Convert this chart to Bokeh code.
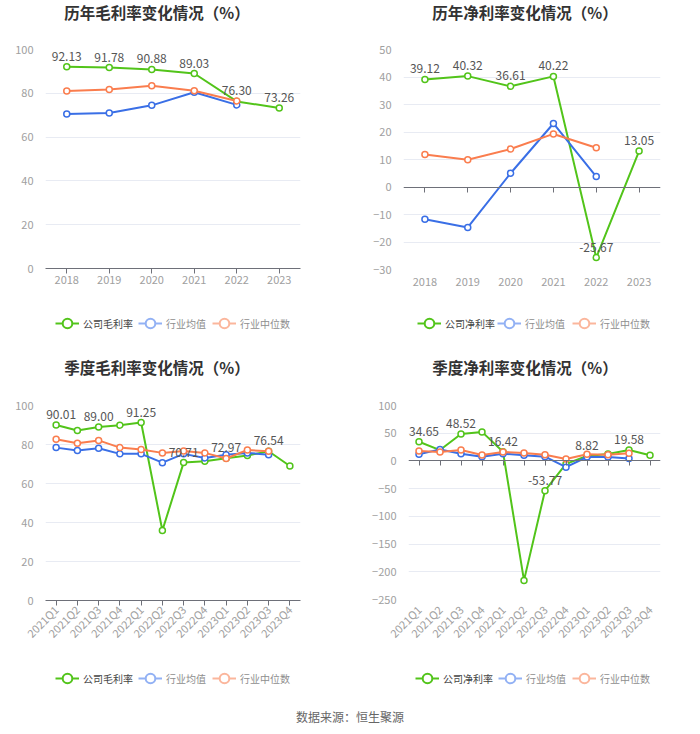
import math
from bokeh.plotting import figure
from bokeh.models import (Legend, LegendItem, CategoricalAxis, Div, FixedTicker, Range1d)
from bokeh.layouts import column, row
from bokeh.embed import file_html
from bokeh.resources import INLINE
from bokeh.core.properties import value

# ---------------- data ----------------
years = ["2018", "2019", "2020", "2021", "2022", "2023"]
year_gross_company = [92.13, 91.78, 90.88, 89.03, 76.30, 73.26]
year_gross_avg = [70.6, 71.0, 74.5, 80.5, 74.7]
year_gross_median = [81.0, 81.7, 83.5, 81.2, 76.5]

year_net_company = [39.12, 40.32, 36.61, 40.22, -25.67, 13.05]
year_net_avg = [-11.7, -14.7, 5.0, 23.1, 3.8]
year_net_median = [11.8, 9.9, 13.8, 19.3, 14.3]

quarters = ["2021Q1", "2021Q2", "2021Q3", "2021Q4", "2022Q1", "2022Q2",
            "2022Q3", "2022Q4", "2023Q1", "2023Q2", "2023Q3", "2023Q4"]
q_gross_company = [90.01, 87.2, 89.00, 89.9, 91.25, 35.9, 70.71, 71.4, 72.97, 74.3, 76.54, 69.0]
q_gross_avg = [78.4, 76.9, 78.1, 75.2, 75.2, 70.7, 75.2, 73.1, 74.7, 75.7, 74.8]
q_gross_median = [82.7, 80.6, 82.1, 78.4, 77.4, 75.7, 76.7, 75.7, 72.8, 77.2, 76.5]

q_net_company = [34.65, 19.6, 48.52, 52.4, 16.42, -215.5, -53.77, -5.4, 8.82, 12.5, 19.58, 10.1]
q_net_avg = [11.9, 20.8, 13.1, 7.7, 13.1, 10.1, 7.7, -11.3, 7.1, 7.1, 4.2]
q_net_median = [17.9, 16.1, 19.6, 10.7, 16.1, 14.3, 11.3, 3.6, 11.9, 11.3, 13.7]

series_names_gross = ["公司毛利率", "行业均值", "行业中位数"]
series_names_net = ["公司净利率", "行业均值", "行业中位数"]
titles = ["历年毛利率变化情况（%）", "历年净利率变化情况（%）",
          "季度毛利率变化情况（%）", "季度净利率变化情况（%）"]
source_text = "数据来源：恒生聚源"

# ---------------- style ----------------
GREEN = "#52c41a"
BLUE = "#3a6fe6"
ORANGE = "#fa7d4e"
LBLUE = "#92b1f4"
LORANGE = "#fbb69c"
FONT = "Noto Sans CJK SC"
NAN = float("nan")


def make_title(text, w, h, pad_top, pad_right):
    return Div(text="<div style='width:%dpx;text-align:center;font-size:15.5px;font-weight:bold;"
                    "color:#333;font-family:\"Noto Sans CJK SC\";padding-top:%dpx;"
                    "padding-right:%dpx;line-height:24px;white-space:nowrap;'>%s</div>"
                    % (w - pad_right, pad_top, pad_right, text),
               width=w, height=h, margin=0)


def make_chart(cats, comp, avg, med, label_idx, first_shift, yr, ystep,
               borders, w, h, zero_axis, rotate):
    l, r, t, b = borders
    p = figure(x_range=cats, y_range=Range1d(yr[0], yr[1]), width=w, height=h,
               output_backend="svg", toolbar_location=None,
               min_border_left=l, min_border_right=r, min_border_top=t,
               min_border_bottom=b)
    p.outline_line_color = None
    p.background_fill_color = "white"
    p.border_fill_color = "white"

    p.xgrid.visible = False
    p.ygrid.grid_line_color = "#e8ebf3"
    p.ygrid.grid_line_width = 1

    p.yaxis.ticker = FixedTicker(ticks=list(range(yr[0], yr[1] + 1, ystep)))
    p.yaxis.axis_line_color = None
    p.yaxis.major_tick_line_color = None
    p.yaxis.minor_tick_line_color = None
    p.yaxis.major_label_text_color = "#a0a0a0"
    p.yaxis.major_label_text_font = FONT
    p.yaxis.major_label_text_font_size = "11px"
    p.yaxis.major_label_standoff = 6

    xa = p.xaxis[0]
    xa.major_label_text_color = "#a0a0a0"
    xa.major_label_text_font = FONT
    xa.major_label_text_font_size = "11px"
    xa.major_label_standoff = 2
    xa.minor_tick_line_color = None
    if rotate:
        xa.major_label_orientation = math.pi / 4
    if zero_axis:
        xa.axis_line_color = None
        xa.major_tick_line_color = None
        za = CategoricalAxis(fixed_location=0)
        za.axis_line_color = "#6e7079"
        za.major_tick_line_color = "#6e7079"
        za.major_tick_out = 5
        za.major_tick_in = 0
        za.major_label_text_font_size = "0px"
        za.major_label_text_alpha = 0
        za.major_label_standoff = 0
        za.minor_tick_line_color = None
        p.add_layout(za, "below")
    else:
        xa.axis_line_color = "#6e7079"
        xa.major_tick_line_color = "#6e7079"
        xa.major_tick_out = 5
        xa.major_tick_in = 0

    ca = cats[:len(avg)]
    cm = cats[:len(med)]
    p.line(cats, comp, line_color=GREEN, line_width=2)
    p.scatter(cats, comp, size=6, fill_color="white", line_color=GREEN, line_width=1.5)
    p.line(ca, avg, line_color=BLUE, line_width=2)
    p.scatter(ca, avg, size=6, fill_color="white", line_color=BLUE, line_width=1.5)
    p.line(cm, med, line_color=ORANGE, line_width=2)
    p.scatter(cm, med, size=6, fill_color="white", line_color=ORANGE, line_width=1.5)

    lx = [cats[i] for i in label_idx]
    ly = [comp[i] for i in label_idx]
    lt = ["%.2f" % comp[i] for i in label_idx]
    xo = [first_shift] + [0] * (len(label_idx) - 1)
    p.text(x=lx, y=ly, text=lt, text_font=value(FONT), text_font_size="12px",
           text_color="#555555", text_align="center", text_baseline="bottom",
           x_offset=xo, y_offset=-6)
    return p


def make_legend(names, xs, y, w, h):
    q = figure(width=w, height=h, output_backend="svg", toolbar_location=None,
               x_axis_type=None, y_axis_type=None,
               min_border_left=0, min_border_right=0, min_border_top=0,
               min_border_bottom=0, x_range=Range1d(0, 1), y_range=Range1d(0, 1))
    q.outline_line_color = None
    q.xgrid.visible = False
    q.ygrid.visible = False
    q.background_fill_color = "white"
    q.border_fill_color = "white"
    specs = [(names[0], GREEN, "#454545"), (names[1], LBLUE, "#8e8e8e"),
             (names[2], LORANGE, "#8e8e8e")]
    for (name, col, tcol), x in zip(specs, xs):
        # proxy renderers (NaN data, nothing drawn) used only for the legend icon
        ln = q.line(x=[NAN], y=[NAN], line_color=col, line_width=2)
        sc = q.scatter(x=[NAN], y=[NAN], size=10, fill_color="white", line_color=col, line_width=2)
        lg = Legend(items=[LegendItem(label=name, renderers=[ln, sc])],
                    location=(x, y), orientation="horizontal",
                    label_text_font=FONT, label_text_font_size="10px",
                    label_text_color=tcol, border_line_color=None,
                    background_fill_alpha=0, glyph_width=24, glyph_height=24,
                    padding=0, margin=0, label_standoff=4, spacing=0)
        q.add_layout(lg, "center")
    return q


every_other = [0, 2, 4, 6, 8, 10]
t1 = make_title(titles[0], 350, 30, 0, 18)
t2 = make_title(titles[1], 350, 30, 0, 0)
t3 = make_title(titles[2], 350, 40, 10, 18)
t4 = make_title(titles[3], 350, 40, 10, 0)

p1 = make_chart(years, year_gross_company, year_gross_avg, year_gross_median,
                list(range(6)), 0, (0, 100), 20, (45, 50, 19, 32), 350, 270, False, False)
p2 = make_chart(years, year_net_company, year_net_avg, year_net_median,
                list(range(6)), 0, (-30, 50), 10, (53, 40, 19, 31), 350, 270, True, False)
p3 = make_chart(quarters, q_gross_company, q_gross_avg, q_gross_median,
                every_other, 5, (0, 100), 20, (45, 50, 20, 48), 350, 264, False, True)
p4 = make_chart(quarters, q_net_company, q_net_avg, q_net_median,
                every_other, 5, (-250, 100), 50, (58, 40, 20, 48), 350, 264, True, True)

l1 = make_legend(series_names_gross, [10, 93, 167], 10, 350, 45)
l2 = make_legend(series_names_net, [14, 94, 169], 10, 350, 45)
l3 = make_legend(series_names_gross, [10, 93, 167], 6, 350, 47)
l4 = make_legend(series_names_net, [7, 90, 164], 6, 350, 47)

footer = Div(text="<div style='width:700px;text-align:center;font-size:12px;color:#666;"
                  "font-family:\"Noto Sans CJK SC\";padding-top:11px;line-height:20px;'>"
             + source_text + "</div>", width=700, height=38, margin=0)

layout = column(
    row(column(t1, p1, l1), column(t2, p2, l2)),
    row(column(t3, p3, l3), column(t4, p4, l4)),
    footer,
)

open("out.html", "w").write(file_html(layout, INLINE))
